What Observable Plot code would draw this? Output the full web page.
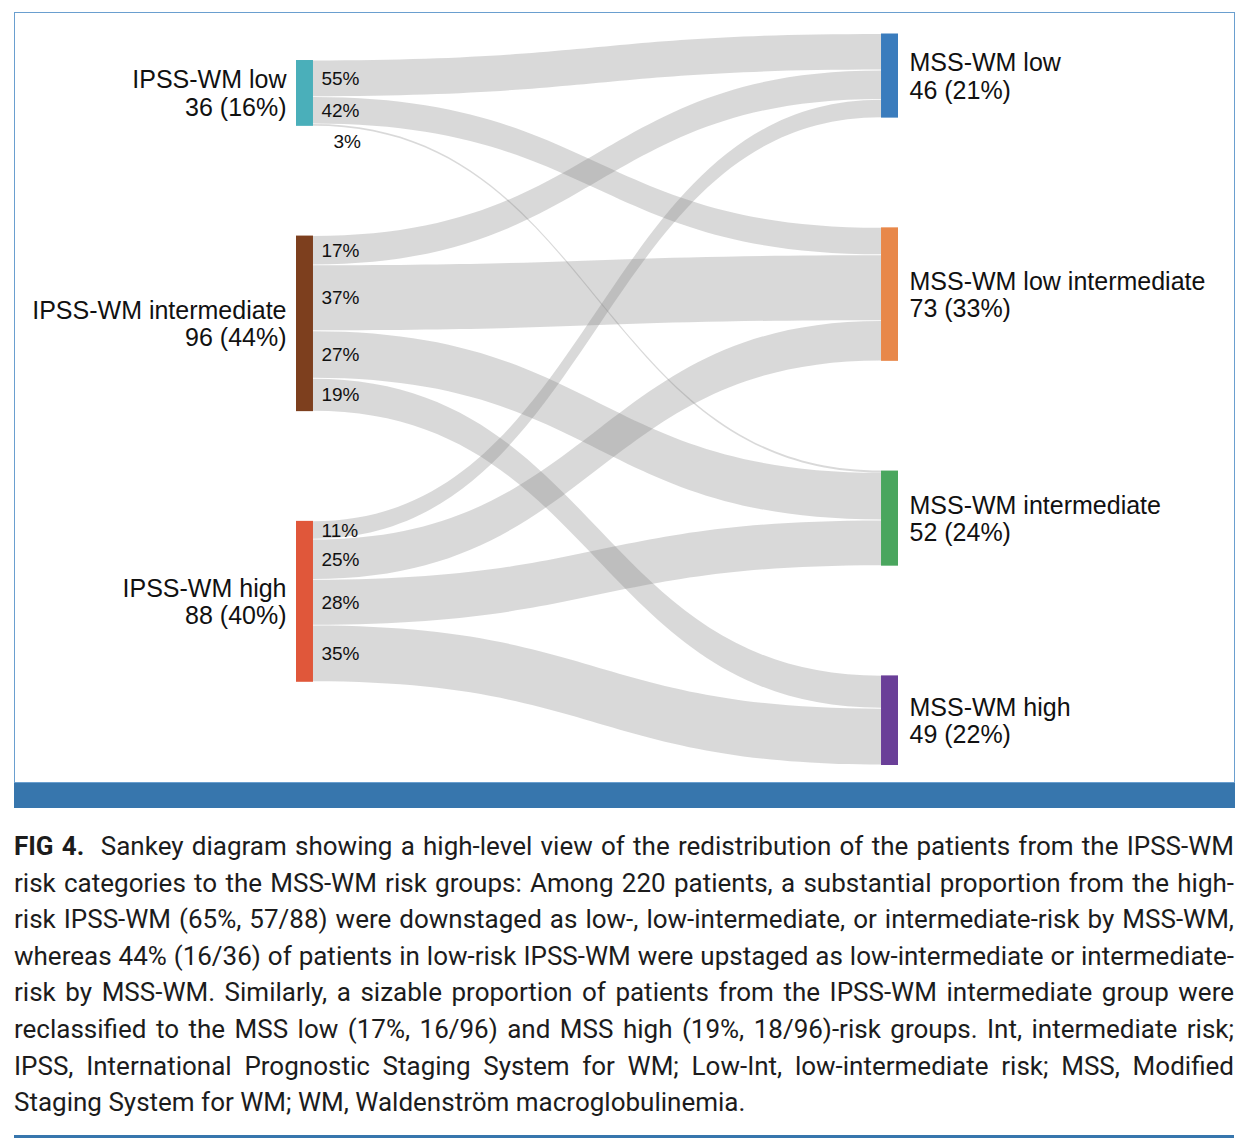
<!DOCTYPE html>
<html><head><meta charset="utf-8">
<script src="https://cdn.jsdelivr.net/npm/d3@7"></script>
<script src="https://cdn.jsdelivr.net/npm/@observablehq/plot@0.6"></script>
<style>
body{margin:0;background:#fff;}
#wrap{position:absolute;left:14px;top:12px;width:1221px;}
#frame{width:1221px;height:771px;border:1px solid #6a9fcf;box-sizing:border-box;}
#frame svg{display:block;}
#bar{width:1221px;height:25px;background:#3776ad;}
#caption{margin-top:20px;width:1220px;font-family:Roboto,sans-serif;font-size:26px;line-height:36.6px;color:#1c1c1c;}
.ln{white-space:nowrap;}
#rule{margin-top:14px;width:1220px;height:3px;background:#3776ad;}
</style></head><body>
<div id="wrap"><div id="frame"></div><div id="bar"></div><div id="caption"></div><div id="rule"></div></div>
<script>
// ---- data ----
const leftNodes = ["IPSS-WM low", "IPSS-WM intermediate", "IPSS-WM high"];
const leftCounts = [36, 96, 88];
const rightNodes = ["MSS-WM low", "MSS-WM low intermediate", "MSS-WM intermediate", "MSS-WM high"];
const rightCounts = [46, 73, 52, 49];
// flows[source][target]
const flows = [
  [20, 15, 1, 0],
  [16, 36, 26, 18],
  [10, 22, 25, 31]
];
// percentages as printed on the links
const flowPct = [
  [55, 42, 3, null],
  [17, 37, 27, 19],
  [11, 25, 28, 35]
];
const leftColors = ["#4aafba", "#7d3f1e", "#e0573a"];
const rightColors = ["#3a7cbd", "#e8884a", "#4aa65e", "#6a3f98"];

const captionLines = [
  "<b>FIG 4.</b>\u00a0 Sankey diagram showing a high-level view of the redistribution of the patients from the IPSS-WM",
  "risk categories to the MSS-WM risk groups: Among 220 patients, a substantial proportion from the high-",
  "risk IPSS-WM (65%, 57/88) were downstaged as low-, low-intermediate, or intermediate-risk by MSS-WM,",
  "whereas 44% (16/36) of patients in low-risk IPSS-WM were upstaged as low-intermediate or intermediate-",
  "risk by MSS-WM. Similarly, a sizable proportion of patients from the IPSS-WM intermediate group were",
  "reclassified to the MSS low (17%, 16/96) and MSS high (19%, 18/96)-risk groups. Int, intermediate risk;",
  "IPSS, International Prognostic Staging System for WM; Low-Int, low-intermediate risk; MSS, Modified",
  "Staging System for WM; WM, Waldenstr\u00f6m macroglobulinemia."
];

// ---- layout (sankey computed in data units) ----
const gap = 60, leftOffset = 14.5, nodeW = 0.0282;
const total = d3.sum(leftCounts);
const nodes = [];
let yy = leftOffset;
leftNodes.forEach((name, i) => {
  nodes.push({name, value: leftCounts[i], side: "L", x1: 0, x2: nodeW, y1: yy, y2: yy + leftCounts[i], color: leftColors[i]});
  yy += leftCounts[i] + gap;
});
yy = 0;
rightNodes.forEach((name, j) => {
  nodes.push({name, value: rightCounts[j], side: "R", x1: 1 - nodeW, x2: 1, y1: yy, y2: yy + rightCounts[j], color: rightColors[j]});
  yy += rightCounts[j] + gap;
});
const L = nodes.filter(d => d.side === "L"), R = nodes.filter(d => d.side === "R");
const srcCur = L.map(d => d.y1), tgtCur = R.map(d => d.y1);
const links = [], pts = [];
const inset = 0.25;
flows.forEach((row, i) => row.forEach((v, j) => {
  if (!v) return;
  const s0 = srcCur[i], t0 = tgtCur[j];
  srcCur[i] += v; tgtCur[j] += v;
  const id = i + "-" + j;
  links.push({id, value: v, pct: flowPct[i][j], s0, s1: s0 + v});
  const ins = v > 2 ? inset : 0;
  pts.push({id, x: nodeW, y0: s0 + ins, y1: s0 + v - ins});
  pts.push({id, x: 1 - nodeW, y0: t0 + ins, y1: t0 + v - ins});
}));
const label = d => `${d.name}\n${d.value} (${Math.round(d.value / total * 100)}%)`;
const mid = d => (d.y1 + d.y2) / 2;

const chart = Plot.plot({
  width: 1219, height: 769, margin: 0,
  x: {domain: [0, 1], range: [281, 883], axis: null},
  y: {domain: [0, 400], range: [20.5, 752], axis: null},
  color: {type: "identity"},
  style: {fontFamily: "'Liberation Sans', Arial, sans-serif", color: "#1c1c1c", background: "white"},
  marks: [
    Plot.area(pts, {x1: "x", y1: "y0", y2: "y1", z: "id", curve: "bump-x", fill: "#808080", fillOpacity: 0.3}),
    Plot.rect(nodes, {x1: "x1", x2: "x2", y1: "y1", y2: "y2", fill: "color"}),
    Plot.text(links.filter(d => d.value >= 3), {x: d => nodeW, y: d => (d.s0 + d.s1) / 2, text: d => d.pct + "%", textAnchor: "start", dx: 8, fontSize: 19, fill: "#111"}),
    Plot.text(links.filter(d => d.value < 3), {x: d => nodeW, y: d => (d.s0 + d.s1) / 2, text: d => d.pct + "%", textAnchor: "start", dx: 20, dy: 16, fontSize: 19, fill: "#111"}),
    Plot.text(L, {x: d => 0, y: mid, text: label, textAnchor: "end", dx: -10, fontSize: 25, lineHeight: 1.1, fill: "#111"}),
    Plot.text(R, {x: d => 1, y: mid, text: label, textAnchor: "start", dx: 11, fontSize: 25, lineHeight: 1.1, fill: "#111"})
  ]
});
document.getElementById("frame").appendChild(chart);

// ---- caption, each line justified to full width ----
const cap = document.getElementById("caption");
captionLines.forEach((t, i) => {
  const div = document.createElement("div");
  div.className = "ln";
  const span = document.createElement("span");
  span.innerHTML = t;
  div.appendChild(span);
  cap.appendChild(div);
  if (i < captionLines.length - 1) {
    const w = span.getBoundingClientRect().width;
    const n = (span.textContent.match(/[ \u00a0]/g) || []).length;
    span.style.wordSpacing = ((1220 - w) / n) + "px";
  }
});
</script>
</body></html>
